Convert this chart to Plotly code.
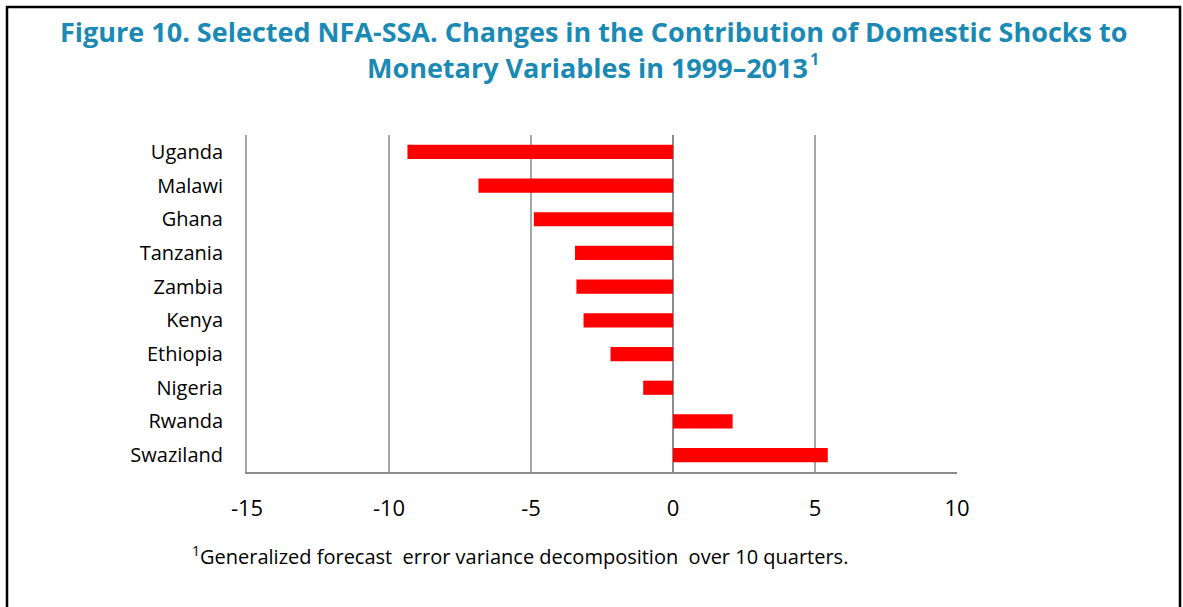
import plotly.graph_objects as go

countries = ["Uganda", "Malawi", "Ghana", "Tanzania", "Zambia",
             "Kenya", "Ethiopia", "Nigeria", "Rwanda", "Swaziland"]
changes = [-9.35, -6.85, -4.9, -3.45, -3.4, -3.15, -2.2, -1.05, 2.1, 5.45]
x_ticks = [-15, -10, -5, 0, 5, 10]

FONT = "Open Sans"
TEAL = "#1a8ab5"

# plot area in pixels: x 247..957, y 135..472
PX_W, PX_H, PX_L, PX_B = 710, 337, 247, 472


def px_x(x):
    return (x - PX_L) / PX_W


def px_y(y):
    return (PX_B - y) / PX_H


fig = go.Figure(go.Bar(
    x=changes, y=countries, orientation="h",
    marker=dict(color="#ff0000", line=dict(width=0)),
    width=0.42,
))

fig.update_layout(
    width=1183, height=607,
    margin=dict(l=247, r=226, t=135, b=135),
    paper_bgcolor="white", plot_bgcolor="white",
    showlegend=False,
    font=dict(family=FONT, color="black"),
)

fig.update_xaxes(
    range=[-15, 10], tickvals=x_ticks, ticktext=[str(v) for v in x_ticks],
    showgrid=True, gridcolor="#a6a6a6", gridwidth=1.5,
    zeroline=True, zerolinecolor="#8c8c8c", zerolinewidth=2,
    showline=True, linecolor="#8c8c8c", linewidth=2,
    ticks="", tickfont=dict(size=22), ticklabelstandoff=16,
)
fig.update_yaxes(
    autorange="reversed", showgrid=False, zeroline=False,
    showline=True, linecolor="#a6a6a6", linewidth=2,
    ticks="", tickfont=dict(size=20), ticklabelstandoff=18,
)

# title: first line centred, second line with a separate superscript
title_font = dict(family=FONT, size=27, color=TEAL)
fig.add_annotation(
    text="<b>Figure 10. Selected NFA-SSA. Changes in the Contribution of Domestic Shocks to</b>",
    xref="paper", yref="paper", x=px_x(593), y=px_y(31),
    xanchor="center", yanchor="middle", showarrow=False, font=title_font,
)
fig.add_annotation(
    text="<b>Monetary Variables in 1999–2013</b>",
    xref="paper", yref="paper", x=px_x(809), y=px_y(68),
    xanchor="right", yanchor="middle", showarrow=False, font=title_font,
    borderpad=0,
)
fig.add_annotation(
    text="<b>1</b>",
    xref="paper", yref="paper", x=px_x(809), y=px_y(59),
    xanchor="left", yanchor="middle", showarrow=False,
    font=dict(family=FONT, size=16, color=TEAL), borderpad=0,
)

# footnote
fig.add_annotation(
    text="<sup>1</sup>Generalized forecast  error variance decomposition  over 10 quarters.",
    xref="paper", yref="paper", x=px_x(190), y=px_y(555),
    xanchor="left", yanchor="middle", showarrow=False,
    font=dict(family=FONT, size=20, color="black"),
)

# frame around the figure (left, top, right)
frame = dict(color="black", width=2.5)
fig.add_shape(type="line", xref="paper", yref="paper",
              x0=px_x(7), x1=px_x(7), y0=px_y(640), y1=px_y(6), line=frame)
fig.add_shape(type="line", xref="paper", yref="paper",
              x0=px_x(6), x1=px_x(1181), y0=px_y(7), y1=px_y(7), line=frame)
fig.add_shape(type="line", xref="paper", yref="paper",
              x0=px_x(1180), x1=px_x(1180), y0=px_y(640), y1=px_y(6), line=frame)

fig.write_html("out.html", config={"displayModeBar": False},
               post_script="document.body.style.margin='0';")
